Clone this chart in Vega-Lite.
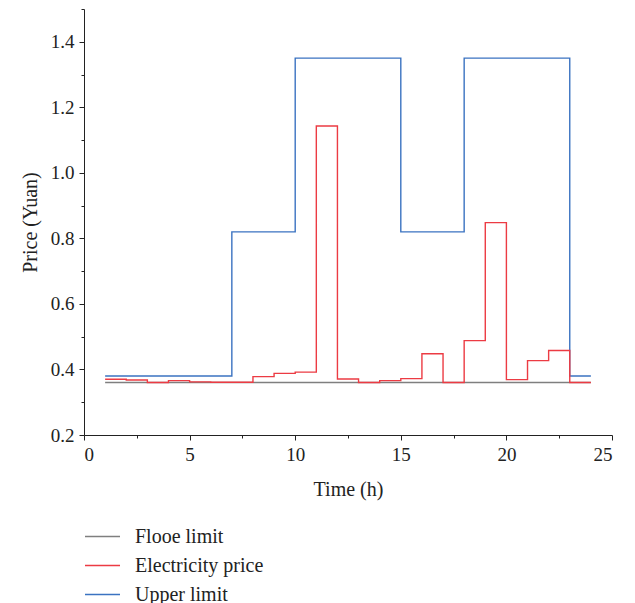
{
  "$schema": "https://vega.github.io/schema/vega-lite/v6.json",
  "width": 528,
  "height": 426,
  "autosize": "none",
  "padding": {"left": 84, "top": 9, "right": 23, "bottom": 168},
  "background": "white",
  "config": {
    "view": {"stroke": null},
    "font": "Liberation Serif",
    "axis": {"labelFont": "Liberation Serif", "titleFont": "Liberation Serif", "labelFontSize": 19, "titleFontSize": 20, "titleFontWeight": "normal", "labelColor": "#222", "titleColor": "#222", "domainColor": "#222", "tickColor": "#222", "grid": false}
  },
  "data": {"values": [
    {"h":1,"v":0.36,"s":"Flooe limit"},{"h":24,"v":0.36,"s":"Flooe limit"},
    {"h":1,"v":0.38,"s":"Upper limit"},{"h":7,"v":0.82,"s":"Upper limit"},{"h":10,"v":1.35,"s":"Upper limit"},{"h":15,"v":0.82,"s":"Upper limit"},{"h":18,"v":1.35,"s":"Upper limit"},{"h":23,"v":0.38,"s":"Upper limit"},{"h":24,"v":0.38,"s":"Upper limit"},
    {"h":1,"v":0.37,"s":"Electricity price"},{"h":2,"v":0.368,"s":"Electricity price"},{"h":3,"v":0.36,"s":"Electricity price"},{"h":4,"v":0.366,"s":"Electricity price"},{"h":5,"v":0.362,"s":"Electricity price"},{"h":6,"v":0.361,"s":"Electricity price"},{"h":7,"v":0.361,"s":"Electricity price"},{"h":8,"v":0.378,"s":"Electricity price"},{"h":9,"v":0.388,"s":"Electricity price"},{"h":10,"v":0.392,"s":"Electricity price"},{"h":11,"v":1.143,"s":"Electricity price"},{"h":12,"v":0.371,"s":"Electricity price"},{"h":13,"v":0.36,"s":"Electricity price"},{"h":14,"v":0.366,"s":"Electricity price"},{"h":15,"v":0.372,"s":"Electricity price"},{"h":16,"v":0.448,"s":"Electricity price"},{"h":17,"v":0.36,"s":"Electricity price"},{"h":18,"v":0.488,"s":"Electricity price"},{"h":19,"v":0.848,"s":"Electricity price"},{"h":20,"v":0.369,"s":"Electricity price"},{"h":21,"v":0.427,"s":"Electricity price"},{"h":22,"v":0.458,"s":"Electricity price"},{"h":23,"v":0.36,"s":"Electricity price"},{"h":24,"v":0.36,"s":"Electricity price"}
  ]},
  "layer": [
    {
      "mark": {"type": "line", "interpolate": "step-after", "strokeWidth": 1.4},
      "encoding": {
        "x": {"field": "h", "type": "quantitative", "scale": {"domain": [0, 25], "nice": false, "zero": false}, "axis": {"title": "Time (h)", "values": [0,5,10,15,20,25], "tickSize": 5, "labelPadding": 5, "titlePadding": 15}},
        "y": {"field": "v", "type": "quantitative", "scale": {"domain": [0.2, 1.5], "nice": false, "zero": false}, "axis": {"title": "Price (Yuan)", "values": [0.2,0.4,0.6,0.8,1.0,1.2,1.4], "format": ".1f", "tickSize": 5, "labelPadding": 5, "titlePadding": 10}},
        "color": {"field": "s", "type": "nominal", "sort": ["Flooe limit","Electricity price","Upper limit"], "scale": {"domain": ["Flooe limit","Electricity price","Upper limit"], "range": ["#7f7f7f","#ec3b43","#3b73c1"]},
          "legend": {"title": null, "orient": "none", "legendX": 0, "legendY": 509, "symbolType": "stroke", "symbolSize": 1225, "symbolStrokeWidth": 1.4, "labelFont": "Liberation Serif", "labelFontSize": 20, "labelColor": "#222", "rowPadding": -10, "labelOffset": 14}}
      }
    },
    {
      "mark": {"type": "line", "interpolate": "step-after", "strokeWidth": 1.4, "opacity": 0},
      "encoding": {
        "x": {"field": "h", "type": "quantitative", "axis": {"title": null, "orient": "bottom", "values": [2.5,7.5,12.5,17.5,22.5], "labels": false, "domain": false, "tickSize": 3}},
        "y": {"field": "v", "type": "quantitative", "axis": {"title": null, "orient": "left", "values": [0.3,0.5,0.7,0.9,1.1,1.3,1.5], "labels": false, "domain": false, "tickSize": 3}},
        "detail": {"field": "s"}
      }
    }
  ],
  "resolve": {"axis": {"x": "independent", "y": "independent"}}
}
